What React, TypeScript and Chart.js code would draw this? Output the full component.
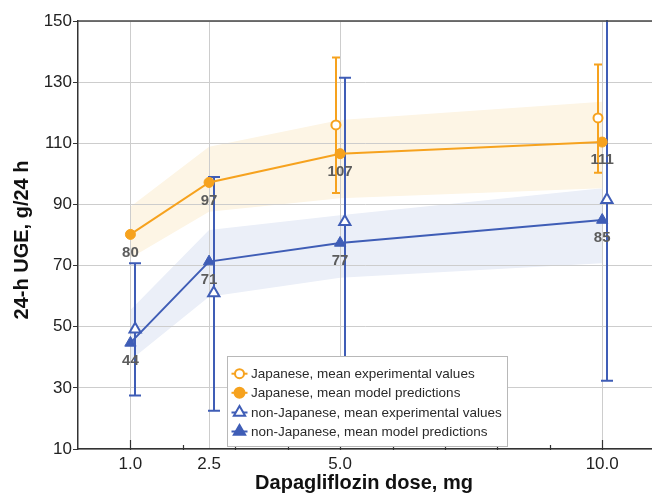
import React, { useEffect, useRef } from "react";
import { Chart, registerables } from "chart.js";

Chart.register(...registerables);

// ---------- data ----------
const doses = [1.0, 2.5, 5.0, 10.0];
const xTickValues = [1.0, 2.5, 5.0, 10.0];
const minorTickValues = [2, 3, 4, 5, 6, 7, 8, 9];
const majorTickValues = [1, 10];

const japModel = [80.2, 97.2, 106.6, 110.4];
const japModelLabels = ["80", "97", "107", "111"];
const nonJapModel = [44.7, 71.3, 77.4, 84.9];
const nonJapModelLabels = ["44", "71", "77", "85"];

const japExpDoses = [5.0, 10.0];
const japExpMean = [116.0, 118.3];
const japExpLow = [93.7, 100.4];
const japExpHigh = [138.1, 135.8];

const nonJapExpDoses = [1.0, 2.5, 5.0, 10.0];
const nonJapExpMean = [49.2, 61.0, 84.3, 91.5];
const nonJapExpLow = [27.5, 22.5, 37.2, 32.3];
const nonJapExpHigh = [70.8, 99.0, 131.4, 150.7];

const japBandUpper = [89.2, 108.9, 117.6, 123.6];
const japBandLower = [72.5, 87.6, 92.0, 95.3];
const nonJapBandUpper = [55.5, 81.6, 86.5, 95.3];
const nonJapBandLower = [39.0, 59.8, 66.0, 70.8];

const legendLabels = [
  "Japanese, mean experimental values",
  "Japanese, mean model predictions",
  "non-Japanese, mean experimental values",
  "non-Japanese, mean model predictions",
];

const xTitle = "Dapagliflozin dose, mg";
const yTitle = "24-h UGE, g/24 h";

// ---------- style ----------
const ORANGE = "#f6a21e";
const BLUE = "#3f5db6";
const ORANGE_BAND = "#fdf5e5";
const BLUE_BAND = "#ebeff8";
const FONT = "'Liberation Sans', Arial, Helvetica, sans-serif";
const JAP_DODGE = -0.08;
const NONJAP_DODGE = 0.09;

const pts = (xs: number[], ys: number[], dx = 0) =>
  xs.map((x, i) => ({ x: x + dx, y: ys[i] }));

const overlayPlugin = {
  id: "overlay",
  beforeDatasetsDraw(chart: any) {
    const { ctx, chartArea: a } = chart;
    const xS = chart.scales.x;
    const yS = chart.scales.y;
    const bars = (
      xs: number[],
      lo: number[],
      hi: number[],
      dodge: number,
      color: string,
      cap: number
    ) => {
      ctx.save();
      ctx.beginPath();
      ctx.rect(a.left, a.top - 1, a.right - a.left, a.bottom - a.top + 2);
      ctx.clip();
      ctx.strokeStyle = color;
      ctx.lineWidth = 2;
      xs.forEach((x, i) => {
        const px = Math.round(xS.getPixelForValue(x + dodge));
        const pl = yS.getPixelForValue(lo[i]);
        const ph = yS.getPixelForValue(hi[i]);
        ctx.beginPath();
        ctx.moveTo(px, pl);
        ctx.lineTo(px, ph);
        ctx.moveTo(px - cap / 2, pl);
        ctx.lineTo(px + cap / 2, pl);
        ctx.moveTo(px - cap / 2, ph);
        ctx.lineTo(px + cap / 2, ph);
        ctx.stroke();
      });
      ctx.restore();
    };
    bars(japExpDoses, japExpLow, japExpHigh, JAP_DODGE, ORANGE, 8);
    bars(nonJapExpDoses, nonJapExpLow, nonJapExpHigh, NONJAP_DODGE, BLUE, 12);
  },
  afterDatasetsDraw(chart: any) {
    const { ctx } = chart;
    const xS = chart.scales.x;
    const yS = chart.scales.y;
    ctx.save();
    ctx.font = `bold 15px ${FONT}`;
    ctx.fillStyle = "#5c5c5c";
    ctx.textAlign = "center";
    ctx.textBaseline = "middle";
    doses.forEach((d, i) => {
      const px = xS.getPixelForValue(d);
      ctx.fillText(japModelLabels[i], px, yS.getPixelForValue(japModel[i]) + 18);
      ctx.fillText(nonJapModelLabels[i], px, yS.getPixelForValue(nonJapModel[i]) + 18);
    });
    ctx.restore();
  },
  afterDraw(chart: any) {
    const { ctx, chartArea: a } = chart;
    const xS = chart.scales.x;
    ctx.save();
    // top frame line
    ctx.strokeStyle = "#444";
    ctx.lineWidth = 1.5;
    ctx.beginPath();
    ctx.moveTo(a.left, a.top);
    ctx.lineTo(a.right, a.top);
    ctx.stroke();
    // x tick marks (inward)
    ctx.strokeStyle = "#333";
    ctx.lineWidth = 1.2;
    minorTickValues.forEach((v) => {
      const px = Math.round(xS.getPixelForValue(v)) + 0.5;
      ctx.beginPath();
      ctx.moveTo(px, a.bottom - 4);
      ctx.lineTo(px, a.bottom + 1);
      ctx.stroke();
    });
    majorTickValues.forEach((v) => {
      const px = Math.round(xS.getPixelForValue(v)) + 0.5;
      ctx.beginPath();
      ctx.moveTo(px, a.bottom - 9);
      ctx.lineTo(px, a.bottom + 1);
      ctx.stroke();
    });
    // axis titles
    ctx.fillStyle = "#111";
    ctx.font = `bold 20px ${FONT}`;
    ctx.textAlign = "center";
    ctx.textBaseline = "middle";
    ctx.fillText(xTitle, 364, 483);
    ctx.save();
    ctx.translate(22, 240);
    ctx.rotate(-Math.PI / 2);
    ctx.fillText(yTitle, 0, 0);
    ctx.restore();
    // legend
    const lx = 227, ly = 356, lw = 280, lh = 90;
    ctx.fillStyle = "#ffffff";
    ctx.fillRect(lx, ly, lw, lh);
    ctx.strokeStyle = "#b8b8b8";
    ctx.lineWidth = 1;
    ctx.strokeRect(lx + 0.5, ly + 0.5, lw, lh);
    const rowY = [373.7, 392.8, 412.5, 431.5];
    const mx = 239.5;
    legendLabels.forEach((label, i) => {
      const y = rowY[i];
      const color = i < 2 ? ORANGE : BLUE;
      ctx.strokeStyle = color;
      ctx.lineWidth = 2;
      ctx.beginPath();
      ctx.moveTo(mx - 8, y);
      ctx.lineTo(mx + 8, y);
      ctx.stroke();
      ctx.fillStyle = i % 2 === 0 ? "#ffffff" : color;
      ctx.beginPath();
      if (i < 2) {
        ctx.arc(mx, y, i === 0 ? 4.5 : 5, 0, Math.PI * 2);
      } else {
        const r = 6.5;
        ctx.moveTo(mx, y - r);
        ctx.lineTo(mx + r * 0.866, y + r * 0.5);
        ctx.lineTo(mx - r * 0.866, y + r * 0.5);
        ctx.closePath();
      }
      ctx.fill();
      ctx.stroke();
      ctx.fillStyle = "#2a2a2a";
      ctx.font = `13.5px ${FONT}`;
      ctx.textAlign = "left";
      ctx.fillText(label, 251, y + 0.5);
    });
    ctx.restore();
  },
};

export default function App() {
  const ref = useRef<HTMLCanvasElement | null>(null);

  useEffect(() => {
    document.body.style.margin = "0";
    if (!ref.current) return;
    const chart = new Chart(ref.current, {
      type: "scatter",
      data: {
        datasets: [
          {
            label: legendLabels[2],
            data: pts(nonJapExpDoses, nonJapExpMean, NONJAP_DODGE),
            showLine: false,
            pointStyle: "triangle",
            pointRadius: 6.5,
            pointBackgroundColor: "#ffffff",
            pointBorderColor: BLUE,
            pointBorderWidth: 2,
          },
          {
            label: legendLabels[0],
            data: pts(japExpDoses, japExpMean, JAP_DODGE),
            showLine: false,
            pointStyle: "circle",
            pointRadius: 4.5,
            pointBackgroundColor: "#ffffff",
            pointBorderColor: ORANGE,
            pointBorderWidth: 2,
          },
          {
            label: legendLabels[1],
            data: pts(doses, japModel),
            showLine: true,
            borderColor: ORANGE,
            borderWidth: 2,
            pointStyle: "circle",
            pointRadius: 5,
            pointBackgroundColor: ORANGE,
            pointBorderColor: ORANGE,
            pointBorderWidth: 1,
          },
          {
            label: legendLabels[3],
            data: pts(doses, nonJapModel),
            showLine: true,
            borderColor: BLUE,
            borderWidth: 2,
            pointStyle: "triangle",
            pointRadius: 6.5,
            pointBackgroundColor: BLUE,
            pointBorderColor: BLUE,
            pointBorderWidth: 1,
          },
          {
            label: "jap band upper",
            data: pts(doses, japBandUpper),
            showLine: true,
            borderWidth: 0,
            borderColor: "rgba(0,0,0,0)",
            pointRadius: 0,
            fill: 5,
            backgroundColor: ORANGE_BAND,
          },
          {
            label: "jap band lower",
            data: pts(doses, japBandLower),
            showLine: true,
            borderWidth: 0,
            borderColor: "rgba(0,0,0,0)",
            pointRadius: 0,
            fill: false,
          },
          {
            label: "nonjap band upper",
            data: pts(doses, nonJapBandUpper),
            showLine: true,
            borderWidth: 0,
            borderColor: "rgba(0,0,0,0)",
            pointRadius: 0,
            fill: 7,
            backgroundColor: BLUE_BAND,
          },
          {
            label: "nonjap band lower",
            data: pts(doses, nonJapBandLower),
            showLine: true,
            borderWidth: 0,
            borderColor: "rgba(0,0,0,0)",
            pointRadius: 0,
            fill: false,
          },
        ],
      },
      options: {
        responsive: false,
        animation: false,
        devicePixelRatio: 1,
        layout: {
          autoPadding: false,
          padding: { top: 21, right: 0, left: 0, bottom: 0 },
        },
        plugins: {
          legend: { display: false },
          tooltip: { enabled: false },
          filler: { drawTime: "beforeDraw" },
        } as any,
        scales: {
          x: {
            type: "linear",
            min: 0,
            max: 10.95,
            afterBuildTicks: (s: any) => {
              s.ticks = xTickValues.map((v) => ({ value: v }));
            },
            afterFit: (s: any) => {
              s.height = 44;
              s.paddingLeft = 0;
              s.paddingRight = 0;
            },
            ticks: {
              callback: (v: any) => Number(v).toFixed(1),
              autoSkip: false,
              maxRotation: 0,
              padding: 5,
              color: "#222",
              font: { family: FONT, size: 17 },
            },
            grid: { color: "#cdcdcd", lineWidth: 1, drawTicks: false },
            border: { color: "#333", width: 1.5 },
          },
          y: {
            type: "linear",
            min: 10,
            max: 150,
            afterFit: (s: any) => {
              s.width = 78;
            },
            ticks: {
              stepSize: 20,
              padding: 1,
              color: "#222",
              font: { family: FONT, size: 17 },
            },
            grid: {
              color: "#cdcdcd",
              lineWidth: 1,
              tickLength: 5,
              tickColor: "#333",
            },
            border: { color: "#333", width: 1.5 },
          },
        },
      },
      plugins: [overlayPlugin],
    });
    return () => chart.destroy();
  }, []);

  return (
    <div style={{ position: "absolute", left: 0, top: 0, width: 652, height: 493, background: "#fff" }}>
      <canvas ref={ref} width={652} height={493} style={{ display: "block" }} />
    </div>
  );
}
